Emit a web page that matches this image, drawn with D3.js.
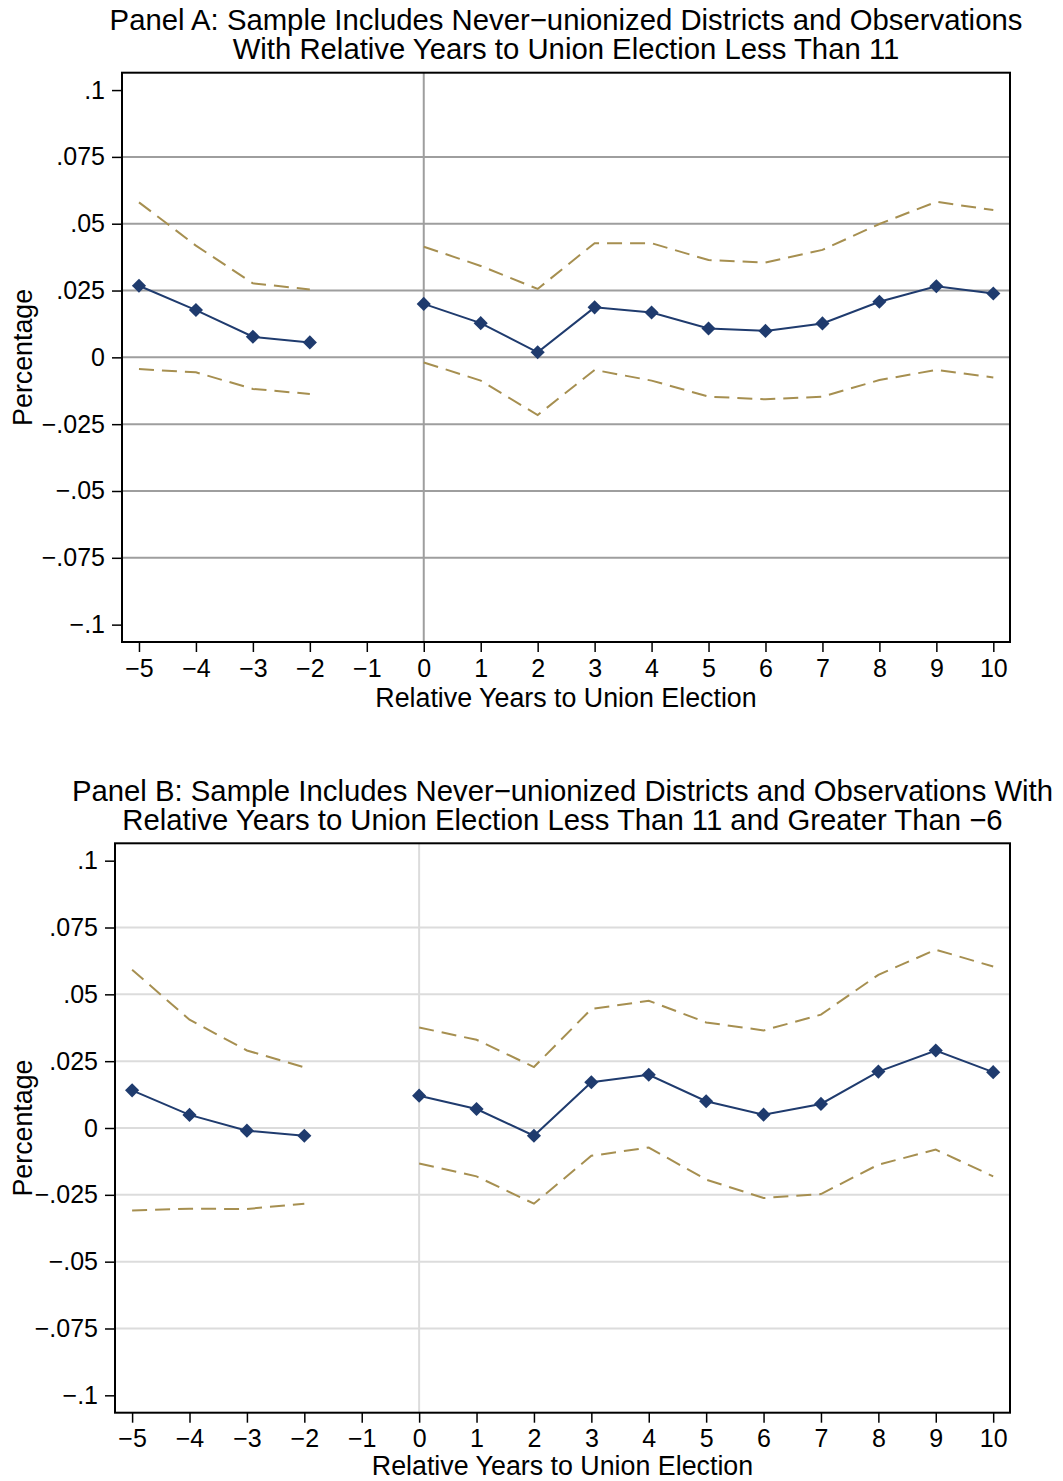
<!DOCTYPE html>
<html>
<head>
<meta charset="utf-8">
<script src="https://cdn.jsdelivr.net/npm/d3@7"></script>
<style>
  html, body { margin: 0; padding: 0; background: #fff; }
  svg { display: block; font-family: "Liberation Sans", Arial, Helvetica, sans-serif; }
</style>
</head>
<body>
<svg id="chart" width="1063" height="1481"></svg>
<script>
// ---------------- DATA ----------------
const years = [-5, -4, -3, -2, -1, 0, 1, 2, 3, 4, 5, 6, 7, 8, 9, 10];
const xTicks = [-5, -4, -3, -2, -1, 0, 1, 2, 3, 4, 5, 6, 7, 8, 9, 10];
const xTickLabels = ["\u22125", "\u22124", "\u22123", "\u22122", "\u22121", "0", "1", "2", "3", "4", "5", "6", "7", "8", "9", "10"];
const yTicks = [0.1, 0.075, 0.05, 0.025, 0, -0.025, -0.05, -0.075, -0.1];
const yTickLabels = [".1", ".075", ".05", ".025", "0", "\u2212.025", "\u2212.05", "\u2212.075", "\u2212.1"];

// Panel A (null = no estimate at year -1)
const coefA  = [0.0268, 0.0177, 0.0077, 0.0056, null, 0.0200, 0.0128, 0.0019, 0.0187, 0.0168, 0.0108, 0.0099, 0.0127, 0.0208, 0.0266, 0.0239];
const upperA = [0.0580, 0.0418, 0.0277, 0.0254, null, 0.0414, 0.0342, 0.0256, 0.0427, 0.0427, 0.0364, 0.0355, 0.0402, 0.0499, 0.0582, 0.0551];
const lowerA = [-0.0044, -0.0056, -0.0118, -0.0137, null, -0.0019, -0.0087, -0.0216, -0.0047, -0.0087, -0.0147, -0.0157, -0.0147, -0.0085, -0.0047, -0.0075];

// Panel B
const coefB  = [0.0141, 0.0049, -0.0010, -0.0029, null, 0.0121, 0.0071, -0.0029, 0.0171, 0.0199, 0.0100, 0.0050, 0.0090, 0.0211, 0.0290, 0.0209];
const upperB = [0.0592, 0.0405, 0.0290, 0.0227, null, 0.0376, 0.0330, 0.0228, 0.0445, 0.0476, 0.0395, 0.0365, 0.0424, 0.0573, 0.0667, 0.0604];
const lowerB = [-0.0309, -0.0302, -0.0303, -0.0283, null, -0.0133, -0.0181, -0.0283, -0.0104, -0.0073, -0.0193, -0.0262, -0.0247, -0.0137, -0.0081, -0.0181];

const titleA = ["Panel A: Sample Includes Never\u2212unionized Districts and Observations",
                "With Relative Years to Union Election Less Than 11"];
const titleB = ["Panel B: Sample Includes Never\u2212unionized Districts and Observations With",
                "Relative Years to Union Election Less Than 11 and Greater Than \u22126"];
const xTitle = "Relative Years to Union Election";
const yTitle = "Percentage";

// ---------------- DRAW ----------------
const svg = d3.select("#chart");
const navy = "#1f3b6e";
const khaki = "#a68f50";
const tickFont = 25;
const axisTitleFont = 26.8;
const titleFont = 29.3;

function drawPanel(opts) {
  const { left, right, top, bottom, titleLines, titleY, xTitleOffset, gridColor, coef, upper, lower } = opts;
  const g = svg.append("g");

  const x = d3.scaleLinear().domain([-5.298, 10.293]).range([left, right]);
  const y = d3.scaleLinear().domain([-0.1065, 0.1065]).range([bottom, top]);

  // titles
  titleLines.forEach((t, i) => {
    g.append("text")
      .attr("x", (left + right) / 2)
      .attr("y", titleY + i * 29.5)
      .attr("text-anchor", "middle")
      .attr("font-size", titleFont)
      .attr("fill", "#000")
      .text(t);
  });

  // gridlines (not at extremes)
  g.append("g").selectAll("line")
    .data(yTicks.filter(v => Math.abs(v) < 0.099))
    .join("line")
    .attr("x1", left).attr("x2", right)
    .attr("y1", d => y(d)).attr("y2", d => y(d))
    .attr("stroke", gridColor).attr("stroke-width", 2);

  // vertical reference line at 0
  g.append("line")
    .attr("x1", x(0)).attr("x2", x(0))
    .attr("y1", top).attr("y2", bottom)
    .attr("stroke", gridColor).attr("stroke-width", 2);

  // y axis
  const yAxis = d3.axisLeft(y)
    .tickValues(yTicks)
    .tickFormat((d, i) => yTickLabels[i])
    .tickSize(10)
    .tickPadding(7);
  const ya = g.append("g").attr("transform", `translate(${left},0)`).call(yAxis);
  ya.select(".domain").remove();
  ya.selectAll(".tick line").attr("stroke", "#000").attr("stroke-width", 1.5);
  ya.selectAll(".tick text").attr("font-size", tickFont).attr("fill", "#000")
    .attr("font-family", "Liberation Sans, Arial, sans-serif");

  // x axis
  const xAxis = d3.axisBottom(x)
    .tickValues(xTicks)
    .tickFormat((d, i) => xTickLabels[i])
    .tickSize(10)
    .tickPadding(7);
  const xa = g.append("g").attr("transform", `translate(0,${bottom})`).call(xAxis);
  xa.select(".domain").remove();
  xa.selectAll(".tick line").attr("stroke", "#000").attr("stroke-width", 1.5);
  xa.selectAll(".tick text").attr("font-size", tickFont).attr("fill", "#000")
    .attr("font-family", "Liberation Sans, Arial, sans-serif");

  // axis titles
  g.append("text")
    .attr("x", (left + right) / 2)
    .attr("y", bottom + xTitleOffset)
    .attr("text-anchor", "middle")
    .attr("font-size", axisTitleFont)
    .text(xTitle);
  g.append("text")
    .attr("transform", `translate(32,${(top + bottom) / 2}) rotate(-90)`)
    .attr("text-anchor", "middle")
    .attr("font-size", axisTitleFont)
    .text(yTitle);

  const pts = arr => years.map((yr, i) => ({ yr, v: arr[i] }));
  const line = d3.line().defined(d => d.v != null).x(d => x(d.yr)).y(d => y(d.v));

  // CI dashed lines
  [upper, lower].forEach(arr => {
    g.append("path")
      .datum(pts(arr))
      .attr("d", line)
      .attr("fill", "none")
      .attr("stroke", khaki)
      .attr("stroke-width", 2)
      .attr("stroke-dasharray", "15,8");
  });

  // coefficient line
  g.append("path")
    .datum(pts(coef))
    .attr("d", line)
    .attr("fill", "none")
    .attr("stroke", navy)
    .attr("stroke-width", 2);

  // diamond markers
  g.append("g").selectAll("path")
    .data(pts(coef).filter(d => d.v != null))
    .join("path")
    .attr("transform", d => `translate(${x(d.yr)},${y(d.v)}) rotate(45)`)
    .attr("d", d3.symbol().type(d3.symbolSquare).size(100))
    .attr("fill", navy);

  // frame
  g.append("rect")
    .attr("x", left).attr("y", top)
    .attr("width", right - left).attr("height", bottom - top)
    .attr("fill", "none").attr("stroke", "#000").attr("stroke-width", 2);
}

drawPanel({
  left: 122, right: 1010, top: 72.7, bottom: 642,
  titleLines: titleA, titleY: 29.5, xTitleOffset: 65,
  gridColor: "#9e9e9e",
  coef: coefA, upper: upperA, lower: lowerA
});

drawPanel({
  left: 115, right: 1010, top: 843.3, bottom: 1412.7,
  titleLines: titleB, titleY: 800.5, xTitleOffset: 62,
  gridColor: "#dcdcdc",
  coef: coefB, upper: upperB, lower: lowerB
});
</script>
</body>
</html>
